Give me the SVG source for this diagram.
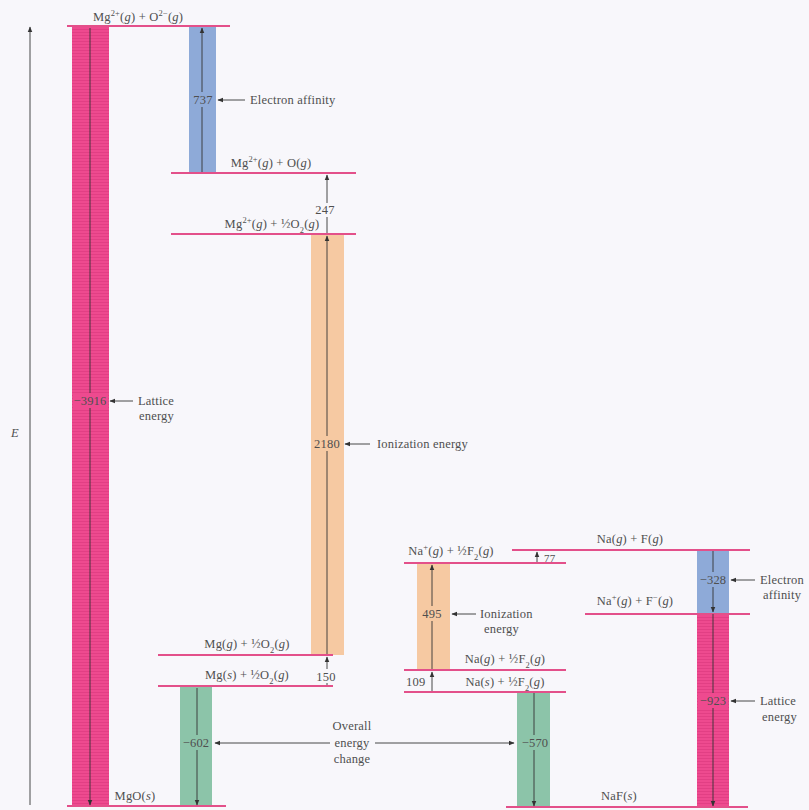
<svg xmlns="http://www.w3.org/2000/svg" width="809" height="810" viewBox="0 0 809 810">
<defs>
<marker id="ah" viewBox="0 0 10 10" refX="9" refY="5" markerWidth="6" markerHeight="6" orient="auto-start-reverse" markerUnits="userSpaceOnUse">
<path d="M0,1 L10,5 L0,9 z" fill="#333"/>
</marker>
<pattern id="hatch" width="6" height="3" patternUnits="userSpaceOnUse">
<rect width="6" height="3" fill="#ee4a8f"/>
<rect y="2" width="6" height="1" fill="#e23f84"/>
</pattern>
</defs>
<style>
text{font-family:"Liberation Serif","Times New Roman",serif;font-size:12.5px;letter-spacing:0.2px;fill:#4f4f4f}
.m{text-anchor:middle}
.i{font-style:italic}
.sup{font-size:8.5px;baseline-shift:super}
.sub{font-size:8.5px;baseline-shift:sub}
.lvl{stroke:#e3508a;stroke-width:2;fill:none}
.arr{stroke:#333;stroke-width:0.9;fill:none}
.pink{fill:url(#hatch)}
.blue{fill:#8eaad8}
.orange{fill:#f6c9a2}
.green{fill:#8cc4a9}
</style>
<rect width="809" height="810" fill="#f8f7fb"/>

<g id="axis">
<line class="arr" x1="30" y1="805" x2="30" y2="27" marker-end="url(#ah)"/>
<text x="15" y="437" class="m i">E</text>
</g>

<g id="bars">
<rect class="pink" x="72" y="27" width="37" height="779"/>
<rect class="blue" x="189" y="27" width="27" height="146"/>
<rect class="orange" x="311" y="235" width="33" height="420"/>
<rect class="green" x="180" y="687" width="32" height="119"/>
<rect class="orange" x="417" y="563" width="33" height="107"/>
<rect class="green" x="517" y="693" width="33" height="113"/>
<rect class="blue" x="697" y="551" width="32" height="62"/>
<rect class="pink" x="697" y="614" width="32" height="192"/>
</g>

<g id="levels">
<g id="lvl-mg2-o2"><line class="lvl" x1="67" y1="26" x2="230" y2="26"/>
<text x="138" y="21" class="m">Mg<tspan class="sup">2+</tspan>(<tspan class="i">g</tspan>) + O<tspan class="sup">2−</tspan>(<tspan class="i">g</tspan>)</text></g>
<g id="lvl-mg2-o"><line class="lvl" x1="171" y1="173" x2="356" y2="173"/>
<text x="271" y="167" class="m">Mg<tspan class="sup">2+</tspan>(<tspan class="i">g</tspan>) + O(<tspan class="i">g</tspan>)</text></g>
<g id="lvl-mg2-halfo2"><line class="lvl" x1="171" y1="234" x2="356" y2="234"/>
<text x="272" y="228" class="m">Mg<tspan class="sup">2+</tspan>(<tspan class="i">g</tspan>) + ½O<tspan class="sub">2</tspan>(<tspan class="i">g</tspan>)</text></g>
<g id="lvl-mgg"><line class="lvl" x1="158" y1="655" x2="333" y2="655"/>
<text x="247" y="648" class="m">Mg(<tspan class="i">g</tspan>) + ½O<tspan class="sub">2</tspan>(<tspan class="i">g</tspan>)</text></g>
<g id="lvl-mgs"><line class="lvl" x1="158" y1="686" x2="333" y2="686"/>
<text x="247" y="679" class="m">Mg(<tspan class="i">s</tspan>) + ½O<tspan class="sub">2</tspan>(<tspan class="i">g</tspan>)</text></g>
<g id="lvl-mgo"><line class="lvl" x1="67" y1="806" x2="226" y2="806"/>
<text x="135" y="800" class="m">MgO(<tspan class="i">s</tspan>)</text></g>

<g id="lvl-naplus-halff2"><line class="lvl" x1="404" y1="563" x2="566" y2="563"/>
<text x="451" y="555" class="m">Na<tspan class="sup">+</tspan>(<tspan class="i">g</tspan>) + ½F<tspan class="sub">2</tspan>(<tspan class="i">g</tspan>)</text></g>
<g id="lvl-nag-fg"><line class="lvl" x1="512" y1="550" x2="750" y2="550"/>
<text x="630" y="543" class="m">Na(<tspan class="i">g</tspan>) + F(<tspan class="i">g</tspan>)</text></g>
<g id="lvl-nag"><line class="lvl" x1="404" y1="670" x2="566" y2="670"/>
<text x="505" y="663" class="m">Na(<tspan class="i">g</tspan>) + ½F<tspan class="sub">2</tspan>(<tspan class="i">g</tspan>)</text></g>
<g id="lvl-nas"><line class="lvl" x1="404" y1="692" x2="566" y2="692"/>
<text x="505" y="686" class="m">Na(<tspan class="i">s</tspan>) + ½F<tspan class="sub">2</tspan>(<tspan class="i">g</tspan>)</text></g>
<g id="lvl-naplus-fminus"><line class="lvl" x1="585" y1="614" x2="750" y2="614"/>
<text x="635" y="605" class="m">Na<tspan class="sup">+</tspan>(<tspan class="i">g</tspan>) + F<tspan class="sup">−</tspan>(<tspan class="i">g</tspan>)</text></g>
<g id="lvl-naf"><line class="lvl" x1="506" y1="807" x2="748" y2="807"/>
<text x="619" y="800" class="m">NaF(<tspan class="i">s</tspan>)</text></g>
</g>

<g id="connectors">
<line class="arr" x1="90" y1="28" x2="90" y2="805" marker-end="url(#ah)"/>
<line class="arr" x1="202" y1="172" x2="202" y2="28" marker-end="url(#ah)"/>
<line class="arr" x1="327" y1="233" x2="327" y2="175" marker-end="url(#ah)"/>
<line class="arr" x1="327" y1="654" x2="327" y2="236" marker-end="url(#ah)"/>
<line class="arr" x1="327" y1="685" x2="327" y2="657" marker-end="url(#ah)"/>
<line class="arr" x1="197" y1="688" x2="197" y2="805" marker-end="url(#ah)"/>
<line class="arr" x1="330" y1="743" x2="215" y2="743" marker-end="url(#ah)"/>
<line class="arr" x1="375" y1="743" x2="514" y2="743" marker-end="url(#ah)"/>
<line class="arr" x1="245" y1="100" x2="218" y2="100" marker-end="url(#ah)"/>
<line class="arr" x1="133" y1="401" x2="110" y2="401" marker-end="url(#ah)"/>
<line class="arr" x1="370" y1="444" x2="345" y2="444" marker-end="url(#ah)"/>
<line class="arr" x1="432" y1="669" x2="432" y2="565" marker-end="url(#ah)"/>
<line class="arr" x1="432" y1="691" x2="432" y2="672" marker-end="url(#ah)"/>
<line class="arr" x1="537" y1="562" x2="537" y2="552" marker-end="url(#ah)"/>
<line class="arr" x1="534" y1="693" x2="534" y2="806" marker-end="url(#ah)"/>
<line class="arr" x1="713" y1="551" x2="713" y2="612" marker-end="url(#ah)"/>
<line class="arr" x1="713" y1="614" x2="713" y2="806" marker-end="url(#ah)"/>
<line class="arr" x1="476" y1="614" x2="452" y2="614" marker-end="url(#ah)"/>
<line class="arr" x1="755" y1="580" x2="731" y2="580" marker-end="url(#ah)"/>
<line class="arr" x1="755" y1="701" x2="731" y2="701" marker-end="url(#ah)"/>
</g>

<g id="values">
<rect x="73" y="393" width="35" height="15" fill="#ee4a8f"/>
<text x="90" y="405" class="m">−3916</text>
<rect x="190" y="92" width="25" height="15" fill="#8eaad8"/>
<text x="203" y="104" class="m">737</text>
<rect x="315" y="203" width="21" height="14" fill="#f8f7fb"/>
<text x="325" y="214" class="m">247</text>
<rect x="312" y="436" width="31" height="15" fill="#f6c9a2"/>
<text x="327" y="448" class="m">2180</text>
<rect x="316" y="669" width="21" height="14" fill="#f8f7fb"/>
<text x="326" y="681" class="m">150</text>
<rect x="181" y="735" width="30" height="15" fill="#8cc4a9"/>
<text x="196" y="747" class="m">−602</text>
<rect x="420" y="606" width="24" height="15" fill="#f6c9a2"/>
<text x="432" y="618" class="m">495</text>
<text x="544" y="562" style="font-size:11px">77</text>
<text x="406" y="686">109</text>
<rect x="519" y="735" width="31" height="15" fill="#8cc4a9"/>
<text x="535" y="747" class="m">−570</text>
<rect x="698" y="572" width="30" height="15" fill="#8eaad8"/>
<text x="713" y="584" class="m">−328</text>
<rect x="698" y="693" width="30" height="15" fill="#ee4a8f"/>
<text x="713" y="705" class="m">−923</text>
</g>

<g id="annotations">
<text x="250" y="104">Electron affinity</text>
<text x="138" y="405">Lattice</text>
<text x="139" y="420">energy</text>
<text x="377" y="448">Ionization energy</text>
<text x="480" y="618">Ionization</text>
<text x="484" y="633">energy</text>
<text x="760" y="584">Electron</text>
<text x="763" y="599">affinity</text>
<text x="760" y="705">Lattice</text>
<text x="762" y="721">energy</text>
<text x="352" y="730" class="m">Overall</text>
<text x="352" y="747" class="m">energy</text>
<text x="352" y="763" class="m">change</text>
</g>
</svg>
